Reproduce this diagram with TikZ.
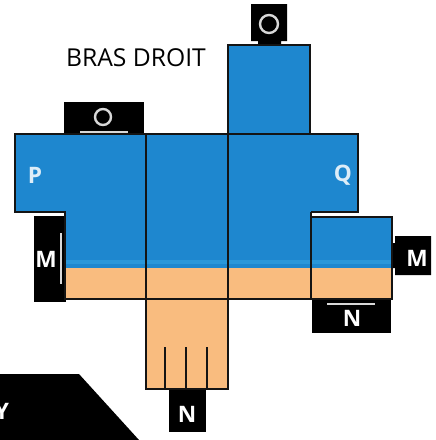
\documentclass[tikz,border=0pt]{standalone}
\usepackage{xcolor}
\usepackage{fontspec}
\setmainfont{Open Sans}
\usetikzlibrary{positioning}
\definecolor{armblue}{HTML}{1E87CF}
\definecolor{stripblue}{HTML}{2A97DA}
\definecolor{skin}{HTML}{F9BC7F}
\definecolor{linegray}{HTML}{141414}
\definecolor{markgray}{HTML}{D8D8D8}

\begin{document}
\begin{tikzpicture}[
  x=0.75pt, y=-0.75pt,
  tab/.style={fill=black, draw=none},
  outline/.style={draw=linegray, line width=1.8pt},
  divider/.style={draw=linegray, line width=1.4pt},
  tabmark/.style={draw=markgray, line width=1pt},
  letter/.style={text=white, font=\bfseries\fontsize{17}{17}\selectfont, inner sep=0pt},
  title/.style={text=black, font=\fontsize{18.5}{20}\selectfont, inner sep=0pt}
]
  \useasboundingbox (0,0) rectangle (436,440);

  % black tabs
  \fill[tab] (64,102) rectangle (144,134);
  \fill[tab] (251,4) rectangle (287,41) (258,41) rectangle (281,46);
  \fill[tab] (34,216) rectangle (66,302);
  \fill[tab] (395,236) rectangle (431,275) (392,243) rectangle (396,268);
  \fill[tab] (312,300) rectangle (391,333);
  \fill[tab] (169,388) rectangle (206,432);
  \fill[tab] (0,374) -- (79,374) -- (139,440) -- (0,440) -- cycle;

  % sleeve
  \fill[armblue] (15,134) -- (228,134) -- (228,45) -- (310,45) -- (310,134) -- (358,134)
    -- (358,212) -- (311,212) -- (311,268) -- (65,268) -- (65,212) -- (15,212) -- cycle;
  \fill[armblue] (311,217) rectangle (392,268);
  \fill[stripblue] (65,260) rectangle (392,264);
  \fill[skin] (65,268) rectangle (392,299);
  \fill[skin] (146,299) rectangle (228,389);

  % outlines
  \draw[outline] (146,134) -- (15,134) -- (15,212) -- (65,212) -- (65,299) -- (146,299);
  \draw[outline] (146,134) -- (358,134) -- (358,212) -- (311,212);
  \draw[outline] (228,134) -- (228,45) -- (310,45) -- (310,134);
  \draw[outline] (311,217) -- (392,217) -- (392,299) -- (311,299) -- cycle;
  \draw[outline] (146,299) -- (146,389) -- (228,389) -- (228,299) -- (311,299);
  \draw[outline] (146,299) -- (228,299);
  \draw[divider] (146,134) -- (146,299);
  \draw[divider] (228,134) -- (228,299);
  \draw[divider] (311,212) -- (311,217);
  \foreach \x in {165,186,207}
    \draw[divider] (\x,347) -- (\x,389);

  % white marks on the tabs
  \draw[tabmark, line width=1.8pt] (103,117) circle (8);
  \draw[tabmark, line width=1.8pt] (269,24) circle (9);
  \draw[tabmark] (80,132) -- (128,132);
  \draw[tabmark] (61,233) -- (61,284);
  \draw[tabmark] (327,304) -- (375,304);

  % labels
  \node[title] (brasdroit) at (136,58) {BRAS DROIT};
  \node[letter, text=white!85!armblue] (labelp) at (35,175) {P};
  \node[letter, text=white!85!armblue] (labelq) at (343,175) {Q};
  \node[letter] (labelmleft) at (46,259) {M};
  \node[letter] (labelmright) at (417,258) {M};
  \node[letter] (labelnright) at (352,318) {N};
  \node[letter] (labelnhand) at (187,414) {N};
  \node[letter] (labely) at (2,411) {Y};
\end{tikzpicture}
\end{document}
